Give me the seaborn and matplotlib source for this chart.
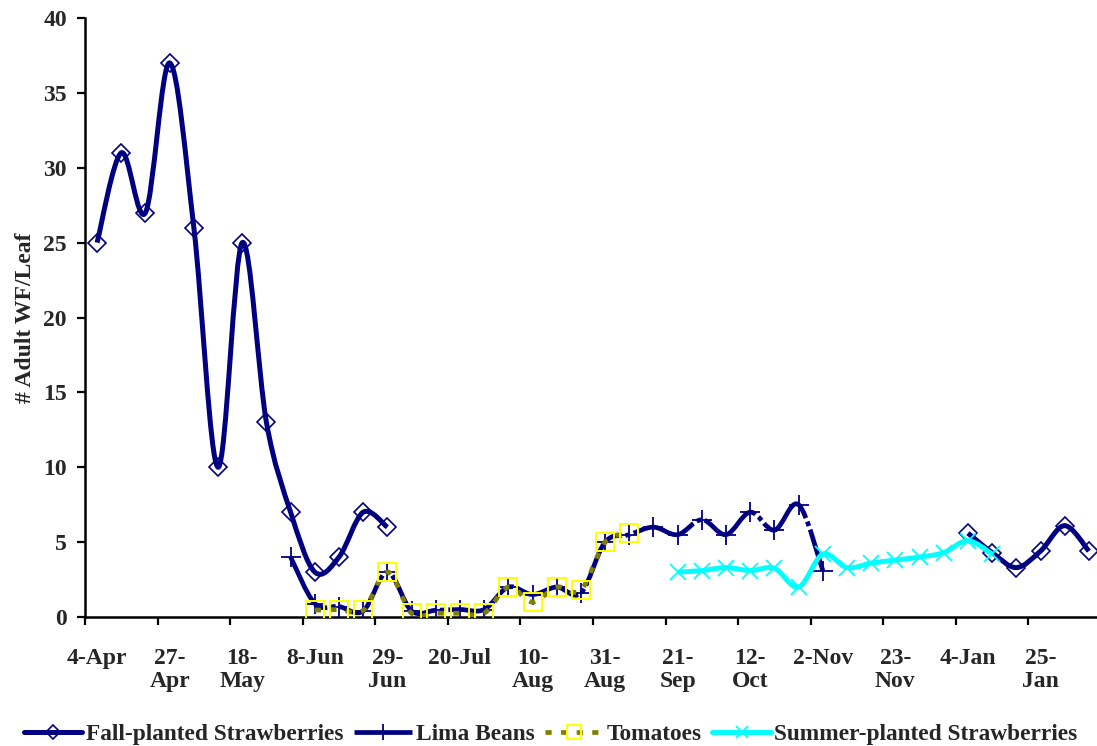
import numpy as np
import pandas as pd
import matplotlib
matplotlib.use("Agg")
import matplotlib.pyplot as plt
from matplotlib.path import Path
from matplotlib.patches import PathPatch
from matplotlib.lines import Line2D
import seaborn as sns

# sampling dates (one category per sample), label shown on every 3rd one
tick_labels = ['4-Apr', '27-\nApr', '18-\nMay', '8-Jun', '29-\nJun', '20-Jul',
               '10-\nAug', '31-\nAug', '21-\nSep', '12-\nOct', '2-Nov',
               '23-\nNov', '4-Jan', '25-\nJan']
n_dates = 42

fall = [25, 31, 27, 37, 26, 10, 25, 13, 7, 3, 4, 7, 6] + [None] * 23 + \
       [5.6, 4.3, 3.3, 4.4, 6.1, 4.4]
lima = [None] * 8 + [4, 0.9, 0.7, 0.4, 3, 0.4, 0.45, 0.5, 0.5, 2, 1.5, 2, 1.6,
                     5, 5.5, 6, 5.5, 6.5, 5.5, 7, 5.8, 7.5, 3.1] + [None] * 11
tomatoes = [None] * 9 + [0.45, 0.5, 0.45, 3, 0.25, 0.25, 0.25, 0.25, 2, 1, 2,
                         1.8, 5, 5.6] + [None] * 19
summer = [None] * 24 + [3, 3.1, 3.3, 3.1, 3.25, 2, 4.2, 3.3, 3.6, 3.8, 4, 4.3,
                        5.1, 4.2] + [None] * 4

names = ['Fall-planted Strawberries', 'Lima Beans', 'Tomatoes',
         'Summer-planted Strawberries']


def smooth_path(xs, ys):
    # Excel-like smoothed line: cubic Bezier through the points
    pts = np.column_stack([xs, ys]).astype(float)
    n = len(pts)
    verts = [pts[0]]
    codes = [Path.MOVETO]
    for i in range(n - 1):
        p0 = pts[i - 1] if i > 0 else pts[i]
        p1, p2 = pts[i], pts[i + 1]
        p3 = pts[i + 2] if i + 2 < n else pts[i + 1]
        verts += [p1 + (p2 - p0) / 6, p2 - (p3 - p1) / 6, p2]
        codes += [Path.CURVE4] * 3
    return Path(verts, codes)


sns.set_theme(style="white")
plt.rcParams['font.family'] = ['Liberation Serif', 'DejaVu Serif']
plt.rcParams['font.weight'] = 'bold'

fig = plt.figure(figsize=(10.97, 7.46), dpi=100)
ax = fig.add_axes([85 / 1097, 1 - 617 / 746, (1101 - 85) / 1097, (617 - 18) / 746])

styles = [
    dict(color='#000080', ls='-', marker='D', ms=9, mfc='none', mec='#000080', mew=1.2),
    dict(color='#000080', ls=(0, (14, 0.8, 1, 0.8)), marker='+', ms=15, mfc='none', mec='#000080', mew=1.3),
    dict(color='#808000', ls=(0, (1.3, 2.0)), marker='s', ms=13, mfc='none', mec='#FFFF00', mew=1.4),
    dict(color='#00FFFF', ls='-', marker='x', ms=11, mfc='none', mec='#00FFFF', mew=1.3),
]
lws = [3.6, 3.4, 3.4, 3.6]

for k, (vals, st) in enumerate(zip([fall, lima, tomatoes, summer], styles)):
    df = pd.DataFrame({'x': np.arange(n_dates), 'y': vals}).dropna()
    # split into runs of consecutive dates
    runs = (df['x'].diff() != 1).cumsum()
    for _, seg in df.groupby(runs):
        if len(seg) > 1:
            patch = PathPatch(smooth_path(seg['x'], seg['y']), fill=False,
                              edgecolor=st['color'], lw=lws[k], linestyle=st['ls'],
                              capstyle='butt', joinstyle='round', zorder=2 + 2 * k)
            ax.add_patch(patch)
        sns.lineplot(x=seg['x'], y=seg['y'], ax=ax, linestyle='', marker=st['marker'],
                     markersize=st['ms'], markerfacecolor=st['mfc'],
                     markeredgecolor=st['mec'], markeredgewidth=st['mew'],
                     zorder=3 + 2 * k, legend=False)

ax.set_xlim(-0.5, n_dates - 0.5)
ax.set_ylim(0, 40)
ax.set_yticks(np.arange(0, 41, 5))
ax.set_xticks(np.arange(-0.5, n_dates - 0.5, 3))
ax.set_xticklabels([])
ax.set_xticks(np.arange(0, n_dates, 3), minor=True)
ax.set_xticklabels(tick_labels, minor=True, fontsize=17, fontweight='bold',
                   linespacing=1.15)
ax.tick_params(axis='x', which='major', direction='out', length=6, width=1.6,
               color='black', bottom=True)
ax.tick_params(axis='x', which='minor', length=0, pad=22, bottom=True)
ax.tick_params(axis='y', direction='out', length=6, width=1.6, color='black',
               left=True, pad=7, labelsize=17)
for lab in ax.get_yticklabels():
    lab.set_fontweight('bold')
ax.set_xlabel('')
ax.set_ylabel('# Adult WF/Leaf', fontsize=17, fontweight='bold', labelpad=5)
sns.despine(ax=ax, top=True, right=True)
for side in ['left', 'bottom']:
    ax.spines[side].set_color('black')
    ax.spines[side].set_linewidth(1.8)
ax.grid(False)

handles = [Line2D([], [], color=st['color'], lw=lws[k], ls=st['ls'],
                  marker=st['marker'], ms=st['ms'] * 0.8, mfc=st['mfc'],
                  mec=st['mec'], mew=st['mew'])
           for k, st in enumerate(styles)]
leg = fig.legend(handles, names, loc='lower center', bbox_to_anchor=(0.502, -0.027),
                 ncol=4, frameon=False, handlelength=2.5, handletextpad=0.15,
                 columnspacing=0.45, prop={'weight': 'bold', 'size': 16.8})
for t in leg.get_texts():
    t.set_fontweight('bold')

fig.savefig('out.png', dpi=100)
